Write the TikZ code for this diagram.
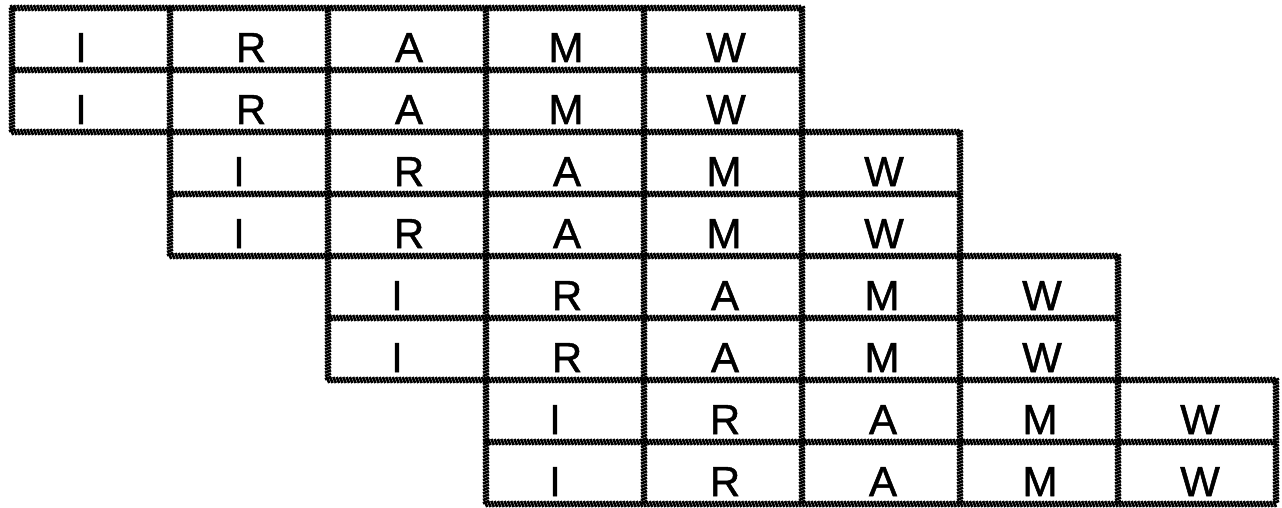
\documentclass[tikz,border=0pt]{standalone}
\usepackage{fontspec}
\setmainfont{Liberation Sans}
\newfontfamily\cellfont[FakeBold=1.2]{Liberation Sans}
\usetikzlibrary{decorations.markings}
\tikzset{
  rope/.style={decoration={markings,
      mark=between positions 0 and 1 step 3.3pt with {\draw[line width=2.6pt, line cap=butt] (-1.3pt,3pt) -- (1.3pt,-3pt);}},
    decorate},
  cell/.style={inner sep=0pt, anchor=base, font=\cellfont\fontsize{42}{42}\selectfont},
}
\begin{document}
\begin{tikzpicture}[x=1pt,y=-1pt]
\useasboundingbox (0,0) rectangle (1282,508);
% horizontal rope lines
\foreach \yi/\a/\b in {0/0/5,1/0/5,2/0/6,3/1/6,4/1/7,5/2/7,6/2/8,7/3/8,8/3/8}
  \path[rope] ({12+\a*158},{8+\yi*62}) -- ({12+\b*158},{8+\yi*62});
% vertical rope lines
\foreach \p in {0,1,2,3}
  \foreach \c in {0,...,5}
    \path[rope] ({12+(\p+\c)*158},{8+2*\p*62}) -- ({12+(\p+\c)*158},{8+(2*\p+2)*62});
% cell labels
\foreach \r in {1,...,8} {
  \pgfmathtruncatemacro\k{(\r-1)/2}
  \foreach \L/\s [count=\j] in {I/-10,R/2,A/2,M/1,W/3} {
    \node[cell] (c\r-\j) at ({12+(\k+\j-1)*158+79+\s},{8+(\r-1)*62+54}) {\L};
  }
}
\end{tikzpicture}
\end{document}
